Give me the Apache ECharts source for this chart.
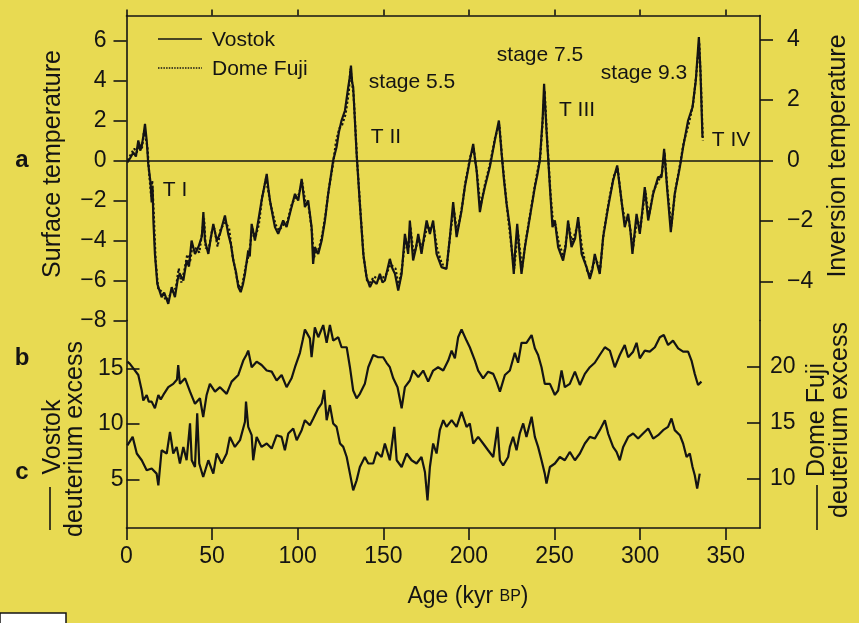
<!DOCTYPE html>
<html><head><meta charset="utf-8">
<script src="https://cdn.jsdelivr.net/npm/echarts@6/dist/echarts.min.js"></script>
<style>html,body{margin:0;padding:0;background:#e8da52}#c{width:859px;height:623px}</style>
</head><body><div id="c"></div>
<script>
// ---------- data (ages in kyr BP) ----------
const ageTicks = [0, 50, 100, 150, 200, 250, 300, 350];
const surfTicks = [-8, -6, -4, -2, 0, 2, 4, 6];
const invTicks = [-4, -2, 0, 2, 4];
const vostokDTicks = [5, 10, 15];
const domeFujiDTicks = [10, 15, 20];
const legendNames = ['Vostok', 'Dome Fuji'];

// a: surface temperature, Vostok
const vostokTemp = [[0.5,-0.1],[2,0.1],[4,0.4],[5.5,0.2],[6.9,1.0],[8,0.5],[8.8,0.67],[10,1.3],[10.8,1.83],[11.8,1.0],[12.7,-0.17],[14.1,-1.15],[14.7,-2.1],[15.2,-1.3],[15.7,-3.0],[16.6,-4.67],[18,-6.17],[20.5,-6.83],[22,-6.6],[24.4,-7.17],[26.4,-6.33],[28.3,-6.83],[30,-5.9],[31.2,-5.67],[33.2,-6.0],[35.1,-5.0],[36.5,-5.3],[38,-4.0],[40,-4.67],[42,-4.33],[44,-3.8],[44.9,-2.58],[45.8,-4.0],[47.8,-4.67],[49,-4.0],[50.7,-3.17],[52.7,-4.0],[54.6,-3.67],[57.5,-2.75],[59.4,-3.67],[61,-4.2],[62.4,-5.0],[64,-5.6],[65.3,-6.33],[66.7,-6.58],[68,-6.2],[69.2,-5.67],[71.1,-4.5],[72,-4.8],[73.1,-3.17],[75,-4.0],[77,-3.0],[78.9,-2.0],[80.5,-1.3],[81.9,-0.67],[83,-1.5],[83.8,-2.0],[85.5,-2.8],[86.7,-3.33],[88.6,-3.67],[91.5,-3.0],[93.5,-3.33],[95,-2.8],[96.4,-2.33],[98.4,-1.67],[100.3,-2.0],[102.3,-0.92],[104.2,-2.33],[106.1,-2.0],[108.1,-3.33],[109,-5.17],[110,-4.33],[112,-4.67],[114,-4.0],[115.9,-3.0],[117.8,-1.67],[119.3,-0.8],[120.7,0],[122.7,0.67],[124,1.4],[125.6,2.0],[127.6,2.5],[128.6,2.4],[129.5,3.67],[130.5,4.2],[131.1,4.75],[131.8,3.9],[132.4,3.67],[133.4,2.0],[134.4,0.33],[136.3,-2.17],[138.3,-4.67],[140.2,-5.83],[142.2,-6.33],[144,-6.0],[146.1,-6.17],[148,-5.67],[149.5,-6.1],[150.9,-6.0],[153.8,-4.92],[155.3,-5.4],[156.8,-5.67],[158.7,-6.5],[160.7,-5.67],[162.6,-3.67],[164.5,-4.67],[165.5,-3.0],[167.4,-5.0],[169,-4.4],[170.4,-3.67],[172.3,-4.67],[173.8,-3.8],[175.3,-3.0],[177.2,-3.67],[179.1,-3.0],[181.1,-4.67],[184,-5.33],[186.9,-5.42],[188.9,-3.83],[190.8,-2.08],[192.8,-3.83],[195.7,-2.5],[197.6,-1.33],[200.5,0],[202.5,0.83],[203.5,0.1],[204.5,-0.5],[206.4,-2.58],[207.8,-1.9],[209.3,-1.33],[212.2,-0.33],[215.1,1.0],[217.5,2.0],[219.1,0.33],[220.5,-1.0],[222,-2.17],[223.9,-3.33],[224.9,-4.33],[226.2,-5.67],[227,-4.5],[228.2,-3.17],[229.5,-4.6],[230.7,-5.67],[232.7,-4.33],[235.6,-2.83],[238.5,-1.33],[240,-0.7],[241.4,0],[243,2.0],[243.9,3.83],[244.5,2.8],[245.3,1.5],[247.3,-1.33],[248.8,-3.33],[250.2,-3.0],[252.1,-4.33],[255,-5.0],[256.5,-4.3],[257.9,-3.0],[259.9,-4.33],[262,-3.9],[263.8,-2.83],[265.8,-4.67],[268.7,-5.33],[270.6,-5.92],[272,-5.5],[273.5,-4.67],[275,-5.2],[276.4,-5.67],[278.4,-3.83],[281.3,-2.33],[284.2,-1.0],[286.6,-0.25],[287.5,-0.9],[289.1,-2.0],[291,-3.33],[293,-2.67],[294.3,-3.5],[295.5,-4.67],[297.9,-2.67],[299.8,-3.67],[301.3,-2.5],[302.7,-1.33],[304.7,-3.0],[307.6,-1.67],[310.5,-0.83],[312.5,-0.83],[314,0.58],[315.7,-1.33],[317.9,-3.58],[320.2,-1.67],[323.2,-0.33],[325.1,0.67],[328,2.0],[330.6,2.67],[332.5,4.0],[334.3,6.17],[335.2,4.5],[336.4,1.17]];

// a: surface temperature, Dome Fuji
const domeFujiTemp = [[0.8,0.0],[2.5,0.3],[4.5,0.6],[6,0.4],[7.5,0.9],[9,0.6],[10.3,1.5],[11.2,1.6],[12.2,0.7],[13.2,-0.6],[14.4,-1.8],[15,-1.0],[15.9,-2.6],[17,-5.0],[18.5,-6.4],[21,-6.6],[23,-7.0],[25,-6.8],[26.8,-6.5],[28.8,-6.4],[30.5,-5.4],[32,-6.1],[33.8,-5.5],[35.5,-4.7],[37,-5.1],[38.5,-4.3],[40.5,-4.4],[42.5,-4.6],[44.5,-3.4],[45.3,-2.9],[46.3,-4.4],[48.3,-4.3],[50,-3.5],[51.3,-3.4],[53.2,-4.3],[55,-3.4],[57.8,-3.1],[59.9,-3.4],[62,-4.8],[64.5,-5.9],[66.2,-6.4],[67.5,-6.3],[69.6,-5.3],[71.5,-4.7],[73.5,-3.4],[75.4,-3.8],[77.3,-3.2],[79.3,-1.8],[81.5,-0.9],[82.3,-0.8],[84.2,-2.2],[87,-3.2],[89,-3.5],[91.8,-3.2],[93.8,-3.1],[96.8,-2.1],[98.8,-1.9],[100.6,-1.7],[102.6,-1.1],[104.5,-2.1],[106.4,-2.3],[108.4,-3.6],[109.3,-4.9],[110.5,-4.6],[112.4,-4.4],[114.4,-3.7],[116.2,-2.7],[118.2,-1.4],[120.4,-0.3],[122.3,0.9],[124.3,1.6],[126,1.8],[127.9,2.3],[129.8,3.4],[130.8,4.6],[131.4,4.5],[132.7,3.2],[134.7,0.0],[136.6,-2.5],[138.6,-4.9],[140.5,-6.0],[142.5,-6.1],[144.5,-5.8],[146.4,-5.9],[148.3,-5.9],[151.2,-5.8],[154.1,-5.2],[157.1,-5.4],[159,-6.3],[161,-5.3],[162.9,-3.9],[164.8,-4.4],[165.8,-3.3],[167.7,-4.7],[170.7,-3.9],[172.6,-4.4],[175.6,-3.3],[177.5,-3.4],[179.4,-3.3],[181.4,-4.4],[184.3,-5.2],[187.2,-5.2],[189.2,-3.6],[191.1,-2.4],[193.1,-3.6],[196,-2.3],[197.9,-1.1],[200.8,0.2],[202.8,0.6],[204.8,-0.7],[206.7,-2.3],[209.6,-1.1],[212.5,-0.1],[215.4,1.2],[217.8,1.8],[219.4,0.1],[222.3,-2.4],[225.2,-4.6],[226.5,-5.4],[228.5,-3.5],[231,-5.4],[233,-4.1],[235.9,-2.6],[238.8,-1.1],[241.7,0.2],[243.3,2.3],[244.2,3.5],[245.6,1.2],[247.6,-1.6],[249.1,-3.1],[250.5,-3.2],[252.4,-4.1],[255.3,-4.8],[258.2,-3.2],[260.2,-4.1],[264.1,-3.1],[266.1,-4.4],[269,-5.5],[270.9,-5.7],[273.8,-4.9],[276.7,-5.4],[278.7,-3.6],[281.6,-2.1],[284.5,-0.8],[286.9,-0.4],[289.4,-2.2],[291.3,-3.1],[293.3,-2.9],[295.8,-4.4],[298.2,-2.9],[300.1,-3.4],[303,-1.5],[305,-2.8],[307.9,-1.5],[310.8,-1.0],[312.8,-0.6],[314.3,0.4],[316,-1.5],[318.2,-3.3],[320.5,-1.5],[323.5,-0.1],[325.4,0.9],[328.3,1.8],[330.9,2.8],[332.8,4.3],[334.5,5.9],[335.5,3.9],[336.6,1.0]];

// b: Vostok deuterium excess (left axis)
const vostokDexcess = [[0.5,15.6],[2,15.4],[4,15.0],[6.9,14.4],[8.9,13.0],[9.8,12.1],[11.8,12.6],[13,12.0],[14.7,12.0],[16.6,11.4],[18.6,12.6],[20,12.2],[21.5,12.6],[24.4,13.3],[27.3,13.6],[29.5,14.0],[30.2,15.3],[31.2,13.6],[34.2,14.1],[37.1,12.9],[40,11.8],[42.9,12.3],[44.8,10.6],[46.8,12.6],[48.7,13.6],[51.7,12.9],[54.6,13.3],[58.5,12.7],[61.4,13.8],[65.3,14.4],[68.2,15.7],[70,16.2],[71.1,16.6],[73.1,15.1],[76,15.6],[78.9,15.3],[81.9,14.8],[84.8,14.7],[87.7,13.9],[90.6,14.4],[93.5,13.3],[96.4,14.1],[98.4,15.1],[101.3,16.4],[103,17.6],[104.2,18.5],[107.1,17.7],[108.1,16.0],[110,18.7],[112,17.8],[114.9,18.9],[116.9,17.3],[118.8,18.9],[120.7,17.5],[123.7,17.8],[125.6,16.9],[128.6,16.9],[130.5,15.1],[132.4,13.0],[134.4,12.3],[136.3,12.7],[139.2,13.6],[141.2,15.1],[144.1,16.2],[147,16.0],[149.9,16.0],[151.9,15.5],[153.8,15.1],[155.8,14.1],[158.3,13.3],[160.7,11.4],[162.6,13.3],[165.5,13.9],[167.4,14.8],[170.4,14.2],[173.3,14.8],[176.2,13.8],[179.1,14.8],[182,15.1],[185,14.8],[187.9,15.7],[189.9,16.6],[191.8,15.9],[193.7,17.8],[195.7,18.5],[198.6,17.5],[200.5,16.9],[203.5,15.7],[205.4,14.8],[208.3,14.1],[211.2,14.7],[214.2,14.5],[216.1,13.8],[218.1,12.9],[221,14.4],[223.9,14.8],[226.8,16.4],[228.7,15.5],[230.7,17.3],[233.6,17.3],[236.6,18.0],[238.5,16.8],[240.4,16.2],[242.4,15.1],[244.3,13.6],[247.3,13.6],[250.2,12.6],[252.1,13.0],[254.1,14.8],[256,13.3],[258.9,13.6],[261.9,14.7],[264.8,13.5],[267.7,14.5],[270.6,15.1],[273.5,15.5],[276.4,16.2],[279.4,16.9],[282.3,16.6],[285.2,15.1],[288.1,16.2],[291,17.1],[293,16.0],[295.9,16.5],[297.9,17.3],[299.8,15.9],[302.7,16.6],[305.6,16.5],[308.6,16.9],[311.5,17.8],[313.8,18.0],[316.3,17.1],[319.2,17.5],[322.2,16.8],[325.1,16.5],[328,16.5],[330,15.7],[331.9,14.5],[333.8,13.5],[335.8,13.8]];

// c: Dome Fuji deuterium excess (right axis)
const domeFujiDexcess = [[0.5,13.0],[1.5,13.16],[3.6,13.75],[6,12.27],[8.9,11.67],[11.8,10.78],[14.7,10.93],[17.6,10.48],[18.6,9.44],[20.5,12.56],[23.5,12.27],[25.4,14.2],[27.3,12.27],[29.3,12.86],[31.2,11.38],[33.2,12.86],[35.1,11.67],[37.1,14.95],[38.1,11.67],[40,11.07],[41.3,15.84],[42.5,11.38],[44.8,10.18],[47.8,11.67],[50.7,10.48],[52.7,12.27],[55.6,11.38],[58.5,12.27],[60.4,13.75],[63.3,12.86],[66.3,13.46],[69.2,15.1],[69.8,16.9],[71.1,14.64],[73.1,13.9],[74,11.67],[76,13.75],[78.9,12.86],[81.9,13.16],[84.8,12.71],[87.7,13.9],[90.6,13.75],[92.5,12.56],[94.5,14.05],[97.4,14.5],[99.4,13.46],[102.3,14.35],[104.2,15.24],[107.1,14.79],[109.1,15.39],[112,16.29],[114,16.73],[115.5,17.92],[116.9,15.24],[118.8,16.58],[120.7,14.95],[122.7,14.64],[124.7,13.16],[126.6,12.86],[128.6,11.96],[130.5,10.48],[132.4,8.99],[134.4,9.88],[136.3,11.07],[139.2,11.96],[141.2,11.38],[144.1,11.38],[146.1,12.41],[149,11.96],[150.9,13.16],[153.8,11.67],[156.4,14.64],[157.8,11.67],[160.7,11.07],[163.6,12.27],[166.5,11.67],[169.4,11.38],[172.3,11.96],[174.3,10.63],[175.8,8.1],[177.2,11.07],[179.1,13.16],[181.1,12.27],[183,14.35],[185,15.24],[186.9,14.64],[189.9,15.24],[192.8,14.64],[195.7,15.98],[198.6,14.64],[200.5,14.95],[202.5,13.16],[205.4,13.75],[208.3,13.16],[211.2,12.56],[214.2,11.96],[216.7,14.64],[218.1,11.67],[220,11.22],[222.9,11.96],[223.9,12.86],[225.8,13.75],[227.8,12.56],[229.7,14.05],[231.7,14.95],[233.6,13.75],[236.6,15.54],[238.5,13.75],[240.4,12.86],[242.4,11.67],[244.3,10.48],[245.3,9.59],[247.3,11.07],[250.2,11.38],[253.1,11.96],[256,11.67],[258.9,12.41],[261.9,11.67],[264.8,12.27],[267.7,13.16],[270.6,13.75],[273.5,13.6],[276.4,14.35],[279.4,15.24],[281.3,14.05],[284.2,12.86],[286.2,12.41],[288.1,11.67],[290.1,12.86],[293,13.75],[295.9,14.05],[298.8,13.6],[301.7,14.05],[304.7,14.5],[307.6,13.6],[310.5,13.9],[313.4,14.35],[316.3,14.64],[318.3,15.39],[320.2,14.35],[323.2,13.9],[325.1,13.16],[327.1,11.96],[329,12.27],[330.6,11.07],[331.9,10.33],[333.3,9.14],[334.8,10.48]];

// ---------- chart ----------
const INK = '#141414';
const FONT = "'Liberation Sans', Arial, Helvetica, sans-serif";
const axLine = { show: true, onZero: false, lineStyle: { color: INK, width: 1.6 } };
const minus = v => String(v).replace('-', '\u2212');
const lbl = (vals, margin) => ({ show: true, customValues: vals, margin: margin, fontSize: 23, color: INK, fontFamily: FONT, formatter: minus });
const tick = (vals, inside, len) => ({ show: true, customValues: vals, inside: inside, length: len, lineStyle: { color: INK, width: 1.6 } });

const chart = echarts.init(document.getElementById('c'), null, { renderer: 'canvas' });

function txt(text, x, y, size, opts) {
  opts = opts || {};
  return {
    type: 'text', x: x, y: y, rotation: opts.rot || 0, silent: true,
    style: {
      text: text, fill: INK, fontSize: size, fontFamily: FONT, fontWeight: opts.bold ? 'bold' : 'normal',
      align: opts.align || 'center', verticalAlign: 'middle', textAlign: opts.align || 'center', textVerticalAlign: 'middle',
      rich: opts.rich
    }
  };
}
const R = Math.PI / 2;
const LW = 2.2;

chart.setOption({
  animation: false,
  backgroundColor: '#e8da52',
  grid: [
    { left: 126.5, right: 99, top: 15.5, height: 305, outerBoundsMode: 'none', containLabel: false },
    { left: 126.5, right: 99, top: 320.5, height: 207.5, outerBoundsMode: 'none', containLabel: false }
  ],
  xAxis: [
    { gridIndex: 0, type: 'value', position: 'top', min: 0, max: 370,
      axisLine: axLine, axisTick: tick(ageTicks, false, 6), axisLabel: { show: false }, splitLine: { show: false } },
    { gridIndex: 1, type: 'value', position: 'bottom', min: 0, max: 370,
      axisLine: axLine, axisTick: tick(ageTicks, false, 12), axisLabel: lbl(ageTicks, 17), splitLine: { show: false } }
  ],
  yAxis: [
    { gridIndex: 0, type: 'value', position: 'left', min: -8, max: 7.25,
      axisLine: axLine, axisTick: tick(surfTicks, false, 13), axisLabel: lbl(surfTicks, 20), splitLine: { show: false } },
    { gridIndex: 0, type: 'value', position: 'right', min: -5.28, max: 4.785,
      axisLine: axLine, axisTick: tick(invTicks, false, 13), axisLabel: lbl(invTicks, 27), splitLine: { show: false } },
    { gridIndex: 1, type: 'value', position: 'left', min: 0.61, max: 19.31,
      axisLine: axLine, axisTick: tick(vostokDTicks, true, 13), axisLabel: lbl(vostokDTicks, 3), splitLine: { show: false } },
    { gridIndex: 1, type: 'value', position: 'right', min: 5.64, max: 24.11,
      axisLine: axLine, axisTick: tick(domeFujiDTicks, true, 13), axisLabel: lbl(domeFujiDTicks, 10), splitLine: { show: false } }
  ],
  series: [
    { name: legendNames[0], type: 'line', xAxisIndex: 0, yAxisIndex: 0, data: vostokTemp,
      symbol: 'none', showSymbol: false, lineStyle: { color: INK, width: LW }, itemStyle: { color: INK },
      markLine: { silent: true, symbol: 'none', label: { show: false },
        lineStyle: { color: INK, width: 1.6, type: 'solid' }, data: [{ yAxis: 0 }] } },
    { name: legendNames[1], type: 'line', xAxisIndex: 0, yAxisIndex: 0, data: domeFujiTemp,
      symbol: 'none', showSymbol: false, lineStyle: { color: INK, width: LW, type: 'dotted' }, itemStyle: { color: INK } },
    { name: 'Vostok deuterium excess', type: 'line', xAxisIndex: 1, yAxisIndex: 2, data: vostokDexcess,
      symbol: 'none', showSymbol: false, lineStyle: { color: INK, width: LW } },
    { name: 'Dome Fuji deuterium excess', type: 'line', xAxisIndex: 1, yAxisIndex: 3, data: domeFujiDexcess,
      symbol: 'none', showSymbol: false, lineStyle: { color: INK, width: LW } }
  ],
  graphic: [
    // legend
    { type: 'line', silent: true, shape: { x1: 158, y1: 39, x2: 202, y2: 39 }, style: { stroke: INK, lineWidth: 1.6 } },
    { type: 'line', silent: true, shape: { x1: 158, y1: 68, x2: 202, y2: 68 }, style: { stroke: INK, lineWidth: 1.6, lineDash: [1.5, 1.2] } },
    txt(legendNames[0], 212, 40, 21, { align: 'left' }),
    txt(legendNames[1], 212, 69, 21, { align: 'left' }),
    // panel letters & axis titles
    txt('a', 22, 160, 24, { bold: true }),
    txt('b', 22, 358, 24, { bold: true }),
    txt('c', 22, 472, 24, { bold: true }),
    txt('Surface temperature', 53, 164, 25, { rot: R }),
    txt('Inversion temperature', 838, 156, 25, { rot: R }),
    txt('Vostok', 53, 437, 25, { rot: R }),
    txt('deuterium excess', 75, 439, 25, { rot: R }),
    { type: 'line', silent: true, shape: { x1: 50, y1: 487, x2: 50, y2: 530 }, style: { stroke: INK, lineWidth: 1.6 } },
    txt('Dome Fuji', 817, 420, 25, { rot: R }),
    txt('deuterium excess', 840, 420, 25, { rot: R }),
    { type: 'line', silent: true, shape: { x1: 817, y1: 485, x2: 817, y2: 530 }, style: { stroke: INK, lineWidth: 1.6 } },
    txt('Age (kyr {sc|BP})', 468, 597, 23, { rich: { sc: { fontSize: 16, fontFamily: FONT, fill: INK } } }),
    // annotations
    txt('stage 5.5', 412, 82, 21),
    txt('T II', 386, 137, 21),
    txt('stage 7.5', 540, 55, 21),
    txt('T III', 577, 110, 21),
    txt('stage 9.3', 644, 73, 21),
    txt('T IV', 731, 140, 21),
    txt('T I', 175, 190, 21),
    { type: 'rect', silent: true, shape: { x: 0, y: 613, width: 66, height: 14 }, style: { fill: '#ffffff', stroke: INK, lineWidth: 1.5 } }
  ]
});
</script>
</body></html>
